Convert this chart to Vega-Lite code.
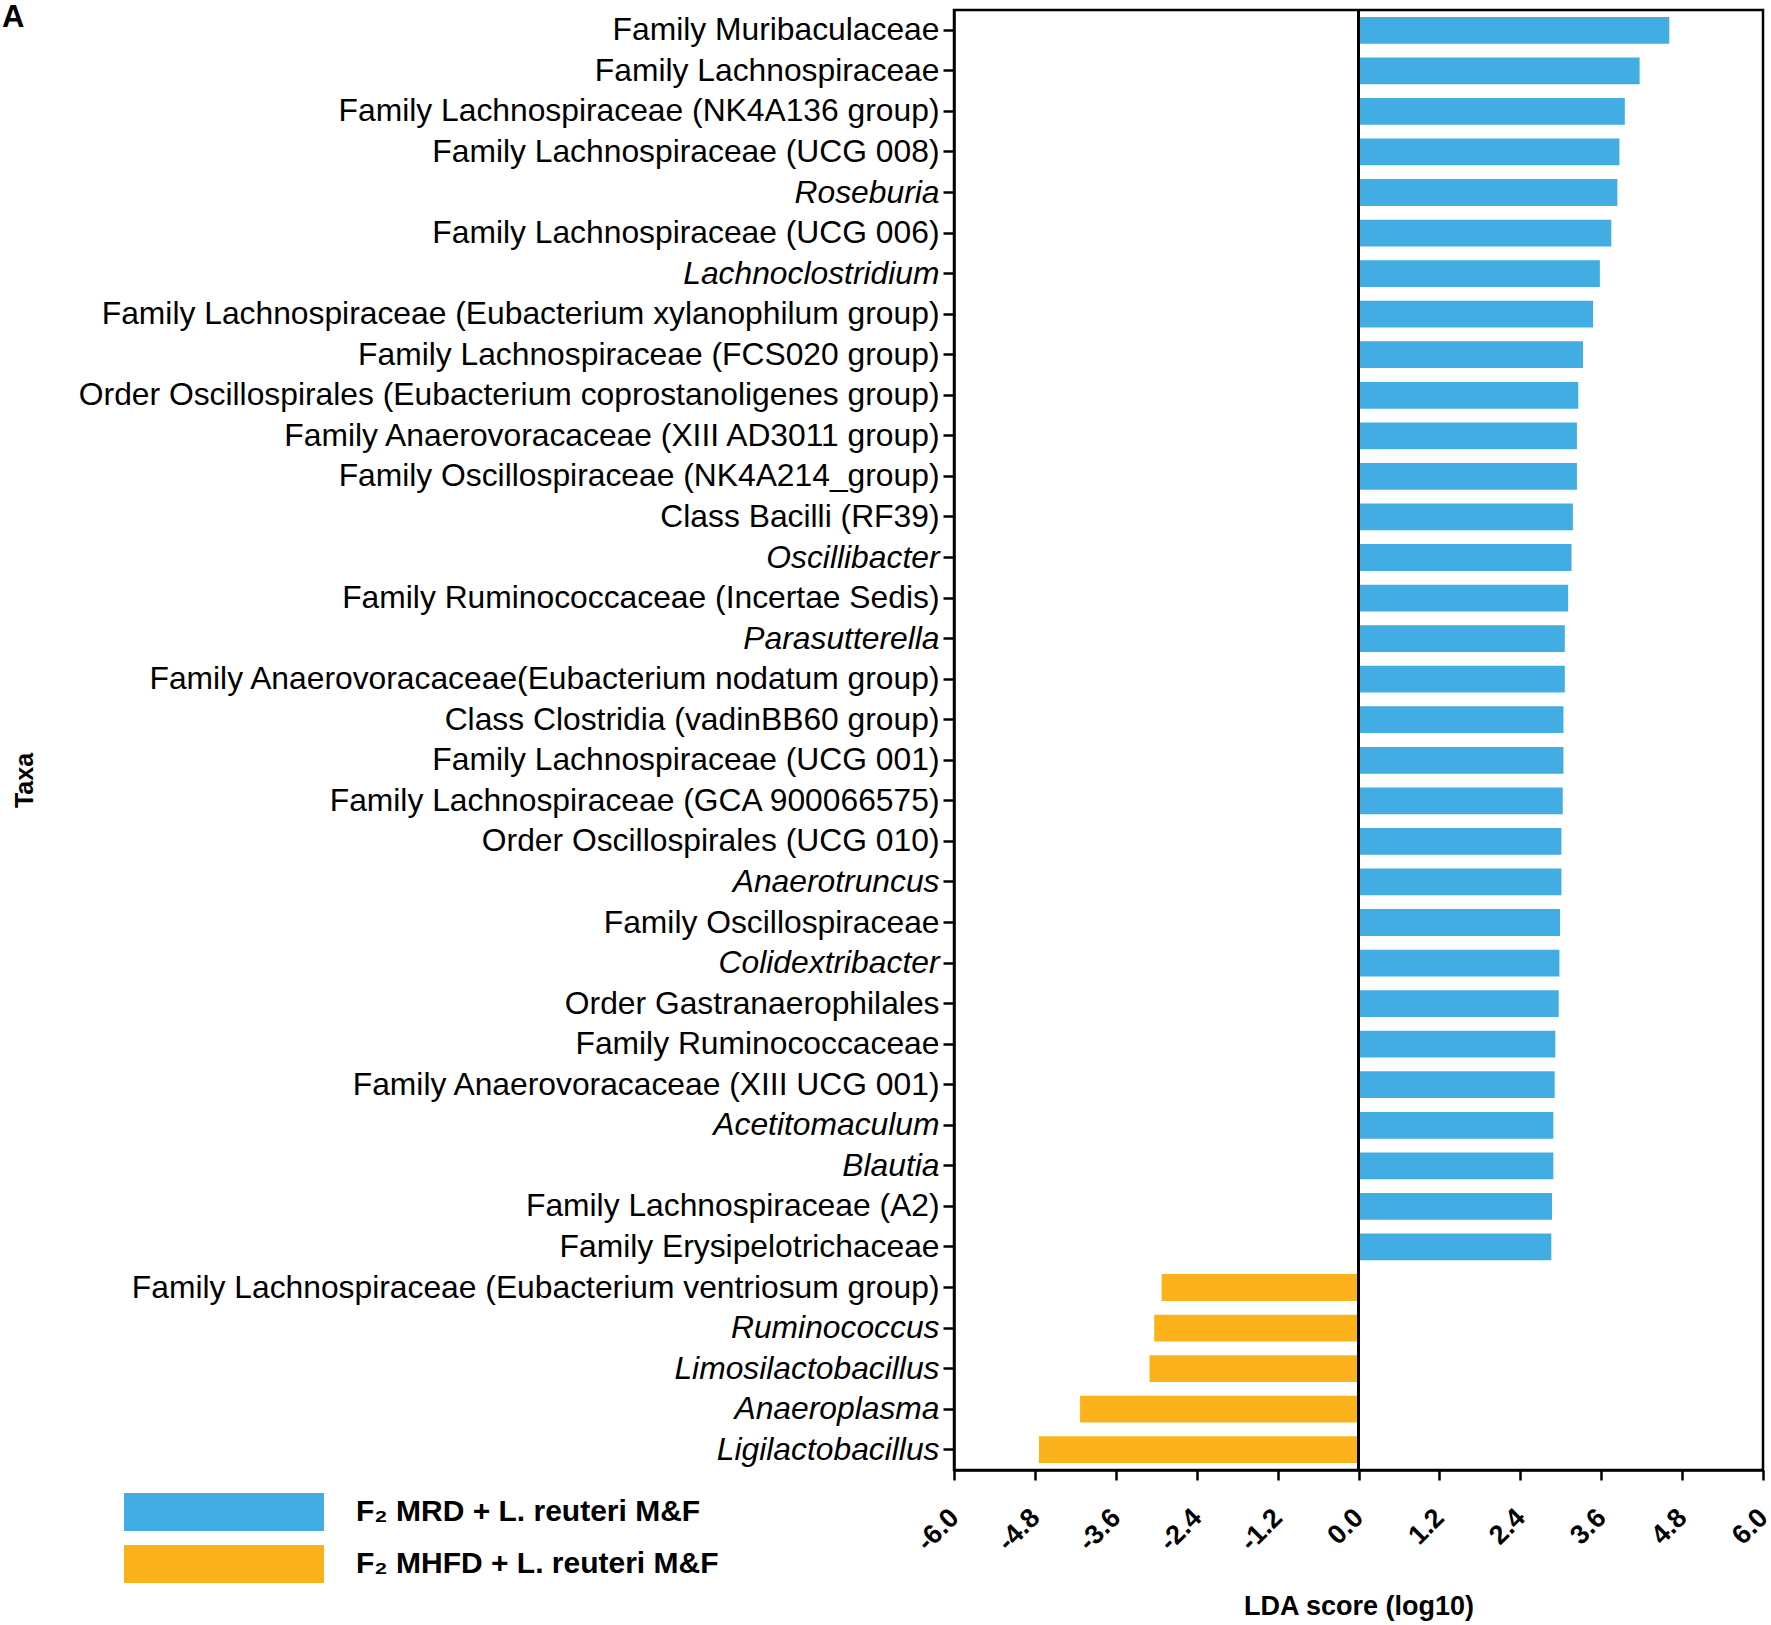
{
  "$schema": "https://vega.github.io/schema/vega-lite/v6.json",
  "autosize": {"type": "none"},
  "width": 809,
  "height": 1460,
  "padding": {"left": 954, "top": 10, "right": 8, "bottom": 155},
  "background": "white",
  "title": {
    "text": "A",
    "anchor": "start",
    "frame": "group",
    "orient": "top",
    "offset": -25,
    "baseline": "top",
    "dx": -952,
    "font": "Liberation Sans",
    "fontSize": 31,
    "fontWeight": "bold",
    "color": "black"
  },
  "config": {
    "view": {"stroke": "black", "strokeWidth": 2.5},
    "axis": {"domainColor": "black", "tickColor": "black", "labelColor": "black", "titleColor": "black", "grid": false}
  },
  "data": {
    "values": [
      {"taxon": "Family Muribaculaceae", "lda": 4.61, "group": "F₂ MRD + L. reuteri M&F"},
      {"taxon": "Family Lachnospiraceae", "lda": 4.17, "group": "F₂ MRD + L. reuteri M&F"},
      {"taxon": "Family Lachnospiraceae (NK4A136 group)", "lda": 3.95, "group": "F₂ MRD + L. reuteri M&F"},
      {"taxon": "Family Lachnospiraceae (UCG 008)", "lda": 3.87, "group": "F₂ MRD + L. reuteri M&F"},
      {"taxon": "Roseburia", "lda": 3.84, "group": "F₂ MRD + L. reuteri M&F"},
      {"taxon": "Family Lachnospiraceae (UCG 006)", "lda": 3.75, "group": "F₂ MRD + L. reuteri M&F"},
      {"taxon": "Lachnoclostridium", "lda": 3.58, "group": "F₂ MRD + L. reuteri M&F"},
      {"taxon": "Family Lachnospiraceae (Eubacterium xylanophilum group)", "lda": 3.48, "group": "F₂ MRD + L. reuteri M&F"},
      {"taxon": "Family Lachnospiraceae (FCS020 group)", "lda": 3.33, "group": "F₂ MRD + L. reuteri M&F"},
      {"taxon": "Order Oscillospirales (Eubacterium coprostanoligenes group)", "lda": 3.26, "group": "F₂ MRD + L. reuteri M&F"},
      {"taxon": "Family Anaerovoracaceae (XIII AD3011 group)", "lda": 3.24, "group": "F₂ MRD + L. reuteri M&F"},
      {"taxon": "Family Oscillospiraceae (NK4A214_group)", "lda": 3.24, "group": "F₂ MRD + L. reuteri M&F"},
      {"taxon": "Class Bacilli (RF39)", "lda": 3.18, "group": "F₂ MRD + L. reuteri M&F"},
      {"taxon": "Oscillibacter", "lda": 3.16, "group": "F₂ MRD + L. reuteri M&F"},
      {"taxon": "Family Ruminococcaceae (Incertae Sedis)", "lda": 3.11, "group": "F₂ MRD + L. reuteri M&F"},
      {"taxon": "Parasutterella", "lda": 3.06, "group": "F₂ MRD + L. reuteri M&F"},
      {"taxon": "Family Anaerovoracaceae(Eubacterium nodatum group)", "lda": 3.06, "group": "F₂ MRD + L. reuteri M&F"},
      {"taxon": "Class Clostridia (vadinBB60 group)", "lda": 3.04, "group": "F₂ MRD + L. reuteri M&F"},
      {"taxon": "Family Lachnospiraceae (UCG 001)", "lda": 3.04, "group": "F₂ MRD + L. reuteri M&F"},
      {"taxon": "Family Lachnospiraceae (GCA 900066575)", "lda": 3.03, "group": "F₂ MRD + L. reuteri M&F"},
      {"taxon": "Order Oscillospirales (UCG 010)", "lda": 3.01, "group": "F₂ MRD + L. reuteri M&F"},
      {"taxon": "Anaerotruncus", "lda": 3.01, "group": "F₂ MRD + L. reuteri M&F"},
      {"taxon": "Family Oscillospiraceae", "lda": 2.99, "group": "F₂ MRD + L. reuteri M&F"},
      {"taxon": "Colidextribacter", "lda": 2.98, "group": "F₂ MRD + L. reuteri M&F"},
      {"taxon": "Order Gastranaerophilales", "lda": 2.97, "group": "F₂ MRD + L. reuteri M&F"},
      {"taxon": "Family Ruminococcaceae", "lda": 2.92, "group": "F₂ MRD + L. reuteri M&F"},
      {"taxon": "Family Anaerovoracaceae (XIII UCG 001)", "lda": 2.91, "group": "F₂ MRD + L. reuteri M&F"},
      {"taxon": "Acetitomaculum", "lda": 2.89, "group": "F₂ MRD + L. reuteri M&F"},
      {"taxon": "Blautia", "lda": 2.89, "group": "F₂ MRD + L. reuteri M&F"},
      {"taxon": "Family Lachnospiraceae (A2)", "lda": 2.87, "group": "F₂ MRD + L. reuteri M&F"},
      {"taxon": "Family Erysipelotrichaceae", "lda": 2.86, "group": "F₂ MRD + L. reuteri M&F"},
      {"taxon": "Family Lachnospiraceae (Eubacterium ventriosum group)", "lda": -2.92, "group": "F₂ MHFD + L. reuteri M&F"},
      {"taxon": "Ruminococcus", "lda": -3.03, "group": "F₂ MHFD + L. reuteri M&F"},
      {"taxon": "Limosilactobacillus", "lda": -3.1, "group": "F₂ MHFD + L. reuteri M&F"},
      {"taxon": "Anaeroplasma", "lda": -4.13, "group": "F₂ MHFD + L. reuteri M&F"},
      {"taxon": "Ligilactobacillus", "lda": -4.74, "group": "F₂ MHFD + L. reuteri M&F"}
    ]
  },
  "layer": [
    {
      "mark": {"type": "bar"},
      "encoding": {
        "y": {
          "field": "taxon",
          "type": "nominal",
          "sort": null,
          "scale": {"paddingInner": 0.34, "paddingOuter": 0.17},
          "axis": {
            "title": "Taxa",
            "titleFont": "Liberation Sans",
            "titleFontSize": 25,
            "titleFontWeight": "bold",
            "titleAngle": 270,
            "titleBaseline": "middle",
            "titleX": -930,
            "titleY": 770,
            "labelFont": "Liberation Sans",
            "labelFontSize": 31.8,
            "labelFontStyle": {"condition": {"test": "indexof(datum.value, ' ') < 0", "value": "italic"}, "value": "normal"},
            "labelLimit": 1000,
            "labelPadding": 4,
            "tickSize": 11,
            "tickWidth": 2.5,
            "domainWidth": 2.5
          }
        },
        "x": {
          "field": "lda",
          "type": "quantitative",
          "scale": {"domain": [-6, 6], "nice": false},
          "axis": {
            "title": "LDA score (log10)",
            "titleFont": "Liberation Sans",
            "titleFontSize": 27,
            "titleFontWeight": "bold",
            "titleBaseline": "middle",
            "titleY": 136,
            "values": [-6, -4.8, -3.6, -2.4, -1.2, 0, 1.2, 2.4, 3.6, 4.8, 6],
            "format": ".1f",
            "labelExpr": "replace(datum.label, '−', '-')",
            "labelFont": "Liberation Sans",
            "labelFontSize": 27,
            "labelFontWeight": "bold",
            "labelAngle": -45,
            "labelAlign": "right",
            "labelBaseline": "top",
            "labelPadding": 24,
            "labelOffset": -9,
            "tickSize": 10,
            "tickWidth": 2.5,
            "domainWidth": 2.5
          }
        },
        "color": {
          "field": "group",
          "type": "nominal",
          "sort": ["F₂ MRD + L. reuteri M&F", "F₂ MHFD + L. reuteri M&F"],
          "scale": {"domain": ["F₂ MRD + L. reuteri M&F", "F₂ MHFD + L. reuteri M&F"], "range": ["#42ade2", "#fbb21b"]},
          "legend": {
            "title": null,
            "orient": "none",
            "legendX": -750,
            "legendY": 1482,
            "symbolType": "M-5,-0.95H5V0.95H-5Z",
            "symbolSize": 1600,
            "symbolStrokeWidth": 0,
            "symbolOpacity": 1,
            "labelFont": "Liberation Sans",
            "labelFontSize": 30,
            "labelFontWeight": "bold",
            "labelColor": "black",
            "labelOffset": 112,
            "labelLimit": 600,
            "rowPadding": 13
          }
        }
      }
    },
    {
      "mark": {"type": "rule", "color": "black", "strokeWidth": 2},
      "encoding": {"x": {"datum": 0}}
    }
  ]
}
